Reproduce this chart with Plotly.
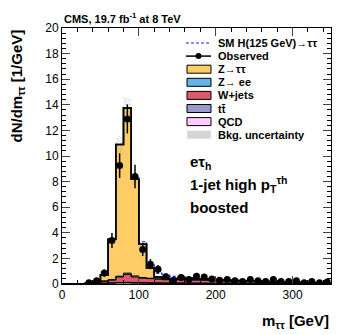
import plotly.graph_objects as go

# ---------------- data ----------------
bin_edges = list(range(0, 360, 10))            # 0..350 GeV, 10 GeV bins
bin_centers = [e + 5 for e in bin_edges[:-1]]

qcd = [0, 0, 0, 0.01, 0.03, 0.05, 0.06, 0.08, 0.08, 0.07, 0.06, 0.05, 0.05, 0.04, 0.04,
       0.04, 0.03, 0.03, 0.03, 0.03, 0.03, 0.02, 0.02, 0.02, 0.02, 0.02, 0.02, 0.02, 0.01,
       0.01, 0.01, 0.01, 0.01, 0.01, 0.01]
ttbar = [0, 0, 0, 0, 0.01, 0.02, 0.03, 0.04, 0.05, 0.05, 0.05, 0.05, 0.05, 0.05, 0.05,
         0.05, 0.05, 0.05, 0.05, 0.04, 0.04, 0.04, 0.04, 0.04, 0.03, 0.03, 0.03, 0.03, 0.03,
         0.02, 0.02, 0.02, 0.02, 0.02, 0.02]
wjets = [0, 0, 0, 0.02, 0.08, 0.15, 0.21, 0.43, 0.62, 0.43, 0.34, 0.32, 0.28, 0.25, 0.25,
         0.25, 0.24, 0.23, 0.22, 0.20, 0.19, 0.18, 0.17, 0.16, 0.15, 0.14, 0.13, 0.12, 0.11,
         0.10, 0.10, 0.09, 0.08, 0.07, 0.06]
zee = [0, 0, 0, 0, 0.01, 0.02, 0.04, 0.06, 0.10, 0.08, 0.05, 0.03, 0.02, 0.01, 0.01,
       0.01, 0.01, 0.01, 0.01, 0.01, 0.01, 0.01, 0, 0, 0, 0, 0, 0, 0, 0, 0, 0, 0, 0, 0]
ztt = [0, 0, 0, 0.02, 0.07, 0.46, 3.16, 10.29, 12.90, 7.57, 2.60, 0.80, 0.15, 0.10, 0.05,
       0.10, 0.09, 0.08, 0.07, 0.07, 0.03, 0.03, 0.04, 0.03, 0.02, 0.01, 0.02, 0.01, 0,
       0.01, 0, 0, 0, 0, 0]
signal = [0, 0, 0, 0, 0, 0, 0, 0, 0, 0.10, 0.20, 0.25, 0.30, 0.30, 0.20,
          0.12, 0.08, 0.05, 0.03, 0.02, 0.02, 0.01, 0.01, 0.01, 0, 0, 0, 0, 0,
          0, 0, 0, 0, 0, 0]
bkg_rel_unc = 0.06

observed = [None, None, None, 0.10, 0.25, 0.85, 3.4, 9.25, 12.9, 8.4, 2.7, 1.55, 1.15, 0.57, 0.30,
            0.50, 0.35, 0.60, 0.55, 0.40, 0.30, 0.35, 0.25, 0.20, 0.35, 0.25, 0.20, 0.35, 0.20,
            0.20, 0.25, 0.10, 0.20, 0.10, 0.15]

x_ticks = [0, 100, 200, 300]
y_ticks = [0, 2, 4, 6, 8, 10, 12, 14, 16, 18, 20]

components = [  # bottom -> top
    ("QCD", qcd, "#FFCCFF"),
    ("tt̄", ttbar, "#9999CC"),
    ("W+jets", wjets, "#DE5A6A"),
    ("Z→ ee", zee, "#64B4E6"),
    ("Z→ττ", ztt, "#FFCC66"),
]

# ---------------- figure ----------------
OFF = 8                      # page body margin of the html page
W, H = 349 - OFF, 335 - OFF
L, R, T, B = 62 - OFF, 18, 28 - OFF, 51
pw, ph = W - L - R, H - T - B


def px(x):  # page pixel -> paper fraction
    return (x - OFF - L) / pw


def py(y):
    return (H - B - (y - OFF)) / ph


fig = go.Figure()

n = len(bin_centers)
cum = [0.0] * n
tops = []
for name, vals, col in components:
    base = cum[:]
    fig.add_trace(go.Bar(x=bin_centers, y=vals, base=base, width=10,
                         marker=dict(color=col, line=dict(width=0)),
                         showlegend=False, hoverinfo="skip"))
    cum = [c + v for c, v in zip(cum, vals)]
    tops.append(cum[:])

total = cum
err = [t * bkg_rel_unc for t in total]

# uncertainty hatch
fig.add_trace(go.Bar(x=bin_centers, y=[2 * e for e in err],
                     base=[t - e for t, e in zip(total, err)], width=10,
                     marker=dict(color="rgba(0,0,0,0)", line=dict(width=0),
                                 pattern=dict(shape="x", fgcolor="#9a9a9a",
                                              bgcolor="rgba(255,255,255,0)", size=3, solidity=0.35)),
                     showlegend=False, hoverinfo="skip"))

# outlines of each stacked level
for i, t in enumerate(tops):
    fig.add_trace(go.Scatter(x=bin_edges, y=t + [t[-1]], mode="lines",
                             line=dict(color="black", width=1.6 if i == len(tops) - 1 else 1, shape="hv"),
                             showlegend=False, hoverinfo="skip"))

# signal stacked on total
sig_tot = [t + s for t, s in zip(total, signal)]
fig.add_trace(go.Scatter(x=bin_edges, y=sig_tot + [sig_tot[-1]], mode="lines",
                         line=dict(color="#1a1aff", width=1.2, dash="3px,2px", shape="hv"),
                         showlegend=False, hoverinfo="skip"))
fig.add_trace(go.Scatter(x=bin_edges, y=total + [total[-1]], mode="lines",
                         line=dict(color="black", width=1.6, shape="hv"),
                         showlegend=False, hoverinfo="skip"))

# observed data
obs_x = [c for c, o in zip(bin_centers, observed) if o is not None]
obs_y = [o for o in observed if o is not None]
obs_e = [(10 * o) ** 0.5 / 10 for o in obs_y]
fig.add_trace(go.Scatter(x=obs_x, y=obs_y, mode="markers",
                         marker=dict(color="black", size=7),
                         error_y=dict(type="data", array=obs_e, color="black", thickness=1.5, width=0),
                         showlegend=False))

font_main = "Liberation Sans, Arial, Helvetica, sans-serif"

fig.update_layout(
    width=W, height=H, margin=dict(l=L, r=R, t=T, b=B, autoexpand=False),
    paper_bgcolor="white", plot_bgcolor="white",
    barmode="overlay", bargap=0, showlegend=False,
    font=dict(family=font_main, color="black", size=12),
    xaxis=dict(range=[0, 350], tickvals=x_ticks, ticks="inside", ticklen=8, tickwidth=1,
               showline=True, linecolor="black", linewidth=1, mirror="allticks",
               showgrid=False, zeroline=False, tickfont=dict(size=12),
               minor=dict(dtick=20, ticks="inside", ticklen=4, tickcolor="black", showgrid=False)),
    yaxis=dict(range=[0, 20], tickvals=y_ticks, ticks="inside", ticklen=8, tickwidth=1,
               showline=True, linecolor="black", linewidth=1, mirror="allticks",
               showgrid=False, zeroline=False, tickfont=dict(size=12),
               minor=dict(dtick=0.4, ticks="inside", ticklen=4, tickcolor="black", showgrid=False)),
)

ann = []
ann.append(dict(text="<b>CMS, 19.7 fb<sup>-1</sup> at 8 TeV</b>", x=px(62), y=py(18),
                xref="paper", yref="paper", xanchor="left", yanchor="middle",
                showarrow=False, font=dict(size=11)))
ann.append(dict(text="<b>dN/dm<sub>ττ</sub> [1/GeV]</b>", x=px(17), y=1.0, textangle=-90,
                xref="paper", yref="paper", xanchor="center", yanchor="top",
                showarrow=False, font=dict(size=15)))
ann.append(dict(text="<b>m<sub>ττ</sub> [GeV]</b>", x=1.0, y=py(321),
                xref="paper", yref="paper", xanchor="right", yanchor="middle",
                showarrow=False, font=dict(size=15)))
for txt, yy in [("<b>eτ<sub>h</sub></b>", 162), ("<b>1-jet high p<sub>T</sub><sup>τh</sup></b>", 184),
                ("<b>boosted</b>", 207)]:
    ann.append(dict(text=txt, x=px(188), y=py(yy), xref="paper", yref="paper",
                    xanchor="left", yanchor="middle", showarrow=False, font=dict(size=15)))

# manual legend
shapes = []
leg_items = [
    ("SM H(125 GeV)→ττ", "sig", None),
    ("Observed", "obs", None),
    ("Z→ττ", "box", "#FFCC66"),
    ("Z→ ee", "box", "#64B4E6"),
    ("W+jets", "box", "#DE5A6A"),
    ("tt̄", "box", "#9999CC"),
    ("QCD", "box", "#FFCCFF"),
    ("Bkg. uncertainty", "unc", None),
]
y0 = 43
for k, (name, kind, col) in enumerate(leg_items):
    yc = y0 + k * 13.1
    if kind == "sig":
        shapes.append(dict(type="line", xref="paper", yref="paper", x0=px(186), x1=px(211),
                           y0=py(yc), y1=py(yc), line=dict(color="#1a1aff", width=1.2, dash="3px,2px")))
    elif kind == "obs":
        shapes.append(dict(type="line", xref="paper", yref="paper", x0=px(186), x1=px(211),
                           y0=py(yc), y1=py(yc), line=dict(color="black", width=1.5)))
        shapes.append(dict(type="circle", xref="paper", yref="paper", x0=px(195.5), x1=px(201.5),
                           y0=py(yc + 3), y1=py(yc - 3), fillcolor="black", line=dict(color="black", width=0)))
    elif kind == "box":
        shapes.append(dict(type="rect", xref="paper", yref="paper", x0=px(187), x1=px(211),
                           y0=py(yc + 4), y1=py(yc - 4), fillcolor=col, line=dict(color="black", width=1)))
    else:
        shapes.append(dict(type="rect", xref="paper", yref="paper", x0=px(187), x1=px(211),
                           y0=py(yc + 4), y1=py(yc - 4), fillcolor="#d6d6d6", line=dict(width=0)))
    ann.append(dict(text="<b>%s</b>" % name, x=px(216), y=py(yc), xref="paper", yref="paper",
                    xanchor="left", yanchor="middle", showarrow=False, font=dict(size=11)))

fig.update_layout(annotations=ann, shapes=shapes)
fig.write_html("out.html")
